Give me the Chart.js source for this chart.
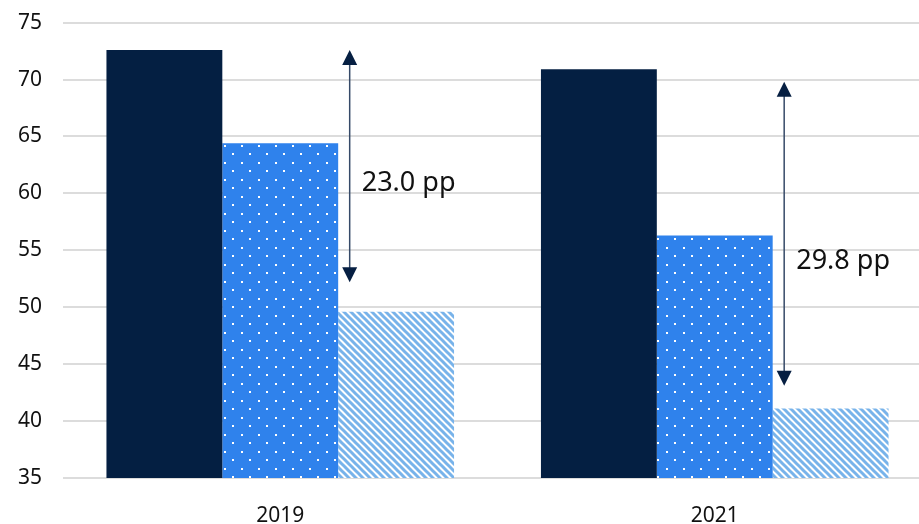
<!DOCTYPE html>
<html>
<head>
<meta charset="utf-8">
<script src="https://cdn.jsdelivr.net/npm/chart.js@4.4.1/dist/chart.umd.min.js"></script>
<style>
  html, body { margin: 0; padding: 0; background: #fff; overflow: hidden; }
  #wrap { width: 932px; height: 524px; overflow: hidden; }
  #myChart { display: block; margin-top: -11px; }
</style>
</head>
<body>
<div id="wrap"><canvas id="myChart" width="932" height="535"></canvas></div>
<script>
const years = ['2019', '2021'];
const seriesA = [72.6, 70.9];
const seriesB = [64.4, 56.3];
const seriesC = [49.6, 41.1];
const yTicks = [35, 40, 45, 50, 55, 60, 65, 70, 75];

// gap arrows: [from, to] in axis units, and label position
const arrowFrom = [52.2, 43.1];
const arrowTo = [72.6, 69.8];
const gapLabels = ['23.0 pp', '29.8 pp'];
const labelAt = [60.9, 54.0];

const FONT = '"Noto Sans", "Open Sans", sans-serif';

function dotPattern() {
  const c = document.createElement('canvas');
  c.width = 17; c.height = 17;
  const g = c.getContext('2d');
  g.fillStyle = '#2f82ec';
  g.fillRect(0, 0, 17, 17);
  g.fillStyle = '#ffffff';
  g.fillRect(3, 3, 2, 2);
  g.fillRect(11, 11, 2, 2);
  return g.createPattern(c, 'repeat');
}

function hatchPattern() {
  const c = document.createElement('canvas');
  c.width = 7; c.height = 7;
  const g = c.getContext('2d');
  g.fillStyle = '#ffffff';
  g.fillRect(0, 0, 7, 7);
  g.strokeStyle = '#78b3ea';
  g.lineWidth = 3;
  g.beginPath();
  g.moveTo(-3.5, -3.5); g.lineTo(10.5, 10.5);
  g.moveTo(-3.5, 3.5); g.lineTo(3.5, 10.5);
  g.moveTo(3.5, -3.5); g.lineTo(10.5, 3.5);
  g.stroke();
  return g.createPattern(c, 'repeat');
}

const gapArrows = {
  id: 'gapArrows',
  afterDatasetsDraw(chart) {
    const ctx = chart.ctx;
    const y = chart.scales.y;
    const meta = chart.getDatasetMeta(2);
    ctx.save();
    for (let i = 0; i < years.length; i++) {
      const bar = meta.data[i];
      const x = bar.x - bar.width / 2 + 11.5;
      const y1 = y.getPixelForValue(arrowTo[i]);
      const y2 = y.getPixelForValue(arrowFrom[i]);
      ctx.strokeStyle = '#364a68';
      ctx.lineWidth = 1.5;
      ctx.beginPath();
      ctx.moveTo(x, y1 + 10);
      ctx.lineTo(x, y2 - 10);
      ctx.stroke();
      ctx.fillStyle = '#061f42';
      ctx.beginPath();
      ctx.moveTo(x, y1); ctx.lineTo(x - 7.5, y1 + 15); ctx.lineTo(x + 7.5, y1 + 15); ctx.closePath();
      ctx.fill();
      ctx.beginPath();
      ctx.moveTo(x, y2); ctx.lineTo(x - 7.5, y2 - 15); ctx.lineTo(x + 7.5, y2 - 15); ctx.closePath();
      ctx.fill();
      ctx.fillStyle = '#111111';
      ctx.font = '27px ' + FONT;
      ctx.textAlign = 'left';
      ctx.textBaseline = 'middle';
      ctx.fillText(gapLabels[i], x + 12, y.getPixelForValue(labelAt[i]));
    }
    ctx.restore();
  }
};

const ctx = document.getElementById('myChart');

new Chart(ctx, {
  type: 'bar',
  data: {
    labels: years,
    datasets: [
      { label: 'A', data: seriesA, backgroundColor: '#041f42', borderWidth: 0 },
      { label: 'B', data: seriesB, backgroundColor: dotPattern(), borderWidth: 0 },
      { label: 'C', data: seriesC, backgroundColor: hatchPattern(), borderWidth: 0 }
    ]
  },
  options: {
    responsive: false,
    animation: false,
    layout: { padding: 0 },
    datasets: { bar: { categoryPercentage: 0.8, barPercentage: 1.0 } },
    plugins: { legend: { display: false }, tooltip: { enabled: false } },
    scales: {
      x: {
        grid: { display: false },
        border: { display: false },
        ticks: { color: '#111', font: { family: FONT, size: 21 }, padding: 17 },
        afterFit(s) { s.height = 46; }
      },
      y: {
        min: 35,
        max: 75,
        afterBuildTicks(s) { s.ticks = yTicks.map(v => ({ value: v })); },
        grid: { color: '#dcdcdc', lineWidth: 2, drawTicks: false },
        border: { display: false },
        ticks: { color: '#111', font: { family: FONT, size: 21 }, padding: 21 },
        afterFit(s) { s.width = 63; }
      }
    }
  },
  plugins: [gapArrows]
});
</script>
</body>
</html>
